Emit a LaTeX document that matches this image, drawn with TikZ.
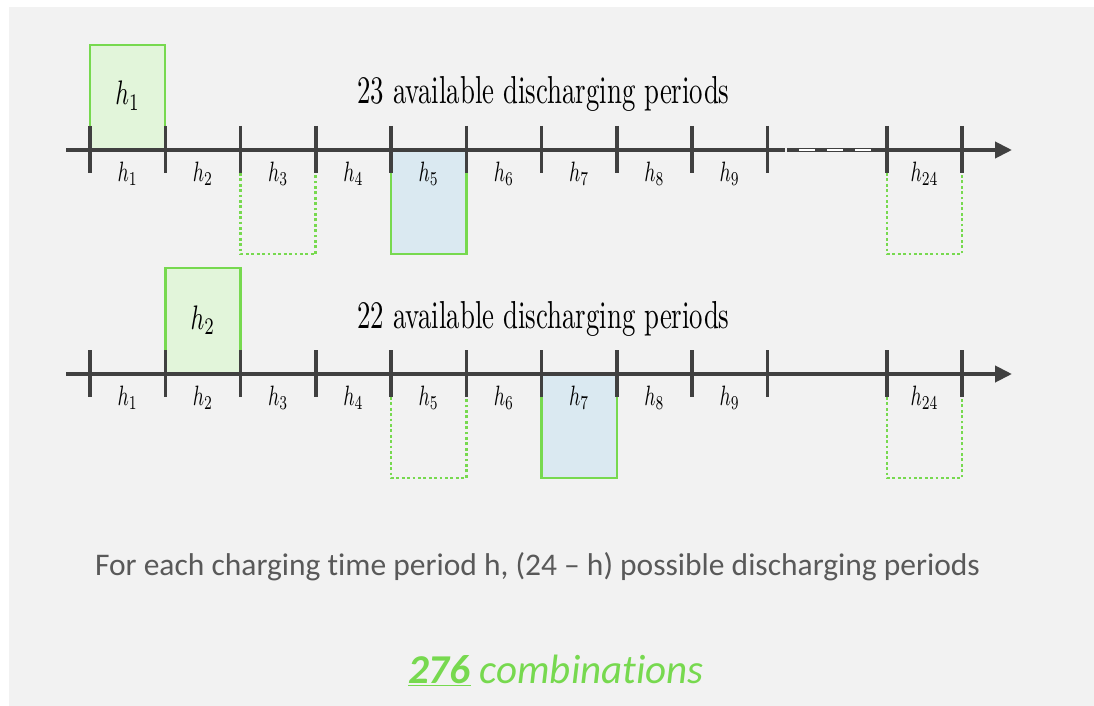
\documentclass[tikz,border=0pt]{standalone}
\usepackage{fontspec}
\usepackage{graphicx}
\usetikzlibrary{arrows.meta}
\newfontfamily\calibrifont[Ligatures=NoCommon]{Carlito}
\definecolor{bggray}{HTML}{F2F2F2}
\definecolor{axisgray}{HTML}{404040}
\definecolor{slotgreen}{HTML}{77D94F}
\definecolor{chargefill}{HTML}{E2F5DA}
\definecolor{dischargefill}{HTML}{DAE9F1}
\definecolor{notegray}{HTML}{595959}
\newcommand{\slotlabel}[1]{\scalebox{1.96}[2.8]{$h_{#1}$}}
\newcommand{\chargelabel}[1]{\scalebox{2.38}[3.4]{$h_{#1}$}}
\newcommand{\availtext}[1]{\scalebox{2.68}[3.9]{#1 available discharging periods}}

\begin{document}
\begin{tikzpicture}[x=1pt,y=-1pt]

\tikzstyle{axis}=[draw=axisgray,line width=4pt,-{Triangle[length=17pt,width=16pt]}]
\tikzstyle{tick}=[draw=axisgray,line width=3.5pt]
\tikzstyle{charge}=[draw=slotgreen,line width=2.5pt,fill=chargefill]
\tikzstyle{discharge}=[draw=slotgreen,line width=2.5pt,fill=dischargefill]
\tikzstyle{option}=[draw=slotgreen,line width=2.8pt,dash pattern=on 2.8pt off 2.6pt]
\tikzstyle{gap}=[draw=white,line width=2.6pt]

\useasboundingbox (0,0) rectangle (1094,706);
\fill[bggray] (9,7) rectangle (1094,706);

\draw[charge] (90,45) rectangle (165,150);
\draw[discharge] (391,150) rectangle (466.25,254);
\draw[option] (240.5,173) |- (315.75,254) -- (315.75,173);
\draw[option] (887,173) |- (962,254) -- (962,173);
\node[anchor=base](c1) at (127.5,105){\chargelabel{1}};
\node[anchor=base](t1) at (543.5,104){\availtext{23}};
\coordinate (a) at (66,150);
\coordinate (b) at (1012,150);
\draw[axis] (a) -- (b);
\draw[bggray,line width=4.5pt] (785,150) -- (787,150);
\draw[gap] (799,150) -- (815,150);
\draw[gap] (827,150) -- (843,150);
\draw[gap] (855,150) -- (871,150);
\foreach \k in {0,...,9}
  \draw[tick] ({90+75.25*\k},126) -- ({90+75.25*\k},173);
\foreach \k in {1,...,9}
  \node[anchor=base](p1\k) at ({52.35+75.25*\k},181){\slotlabel{\k}};
\draw[tick] (887,126) -- (887,173);
\draw[tick] (962,126) -- (962,173);
\node[anchor=base](p1z) at (924.5,181){\slotlabel{24}};

\draw[charge] (165.25,268) rectangle (240.5,374);
\draw[discharge] (541.5,374) rectangle (616.75,478);
\draw[option] (391,397) |- (466.25,478) -- (466.25,397);
\draw[option] (887,397) |- (962,478) -- (962,397);
\node[anchor=base](c2) at (202.9,329){\chargelabel{2}};
\node[anchor=base](t2) at (543.5,328){\availtext{22}};
\coordinate (g) at (66,374);
\coordinate (h) at (1012,374);
\draw[axis] (g) -- (h);
\foreach \k in {0,...,9}
  \draw[tick] ({90+75.25*\k},350) -- ({90+75.25*\k},397);
\foreach \k in {1,...,9}
  \node[anchor=base](p2\k) at ({52.35+75.25*\k},405){\slotlabel{\k}};
\draw[tick] (887,350) -- (887,397);
\draw[tick] (962,350) -- (962,397);
\node[anchor=base](p2z) at (924.5,405){\slotlabel{24}};

\node[anchor=base,text=notegray](note) at (537.5,575)
  {\calibrifont\fontsize{31.5}{31.5}\selectfont For each charging time period h, (24 – h) possible discharging periods};
\node[anchor=base,text=slotgreen](total) at (556,683)
  {\calibrifont\itshape\fontsize{41}{41}\selectfont\underline{\textbf{276}} combinations};

\end{tikzpicture}
\end{document}
